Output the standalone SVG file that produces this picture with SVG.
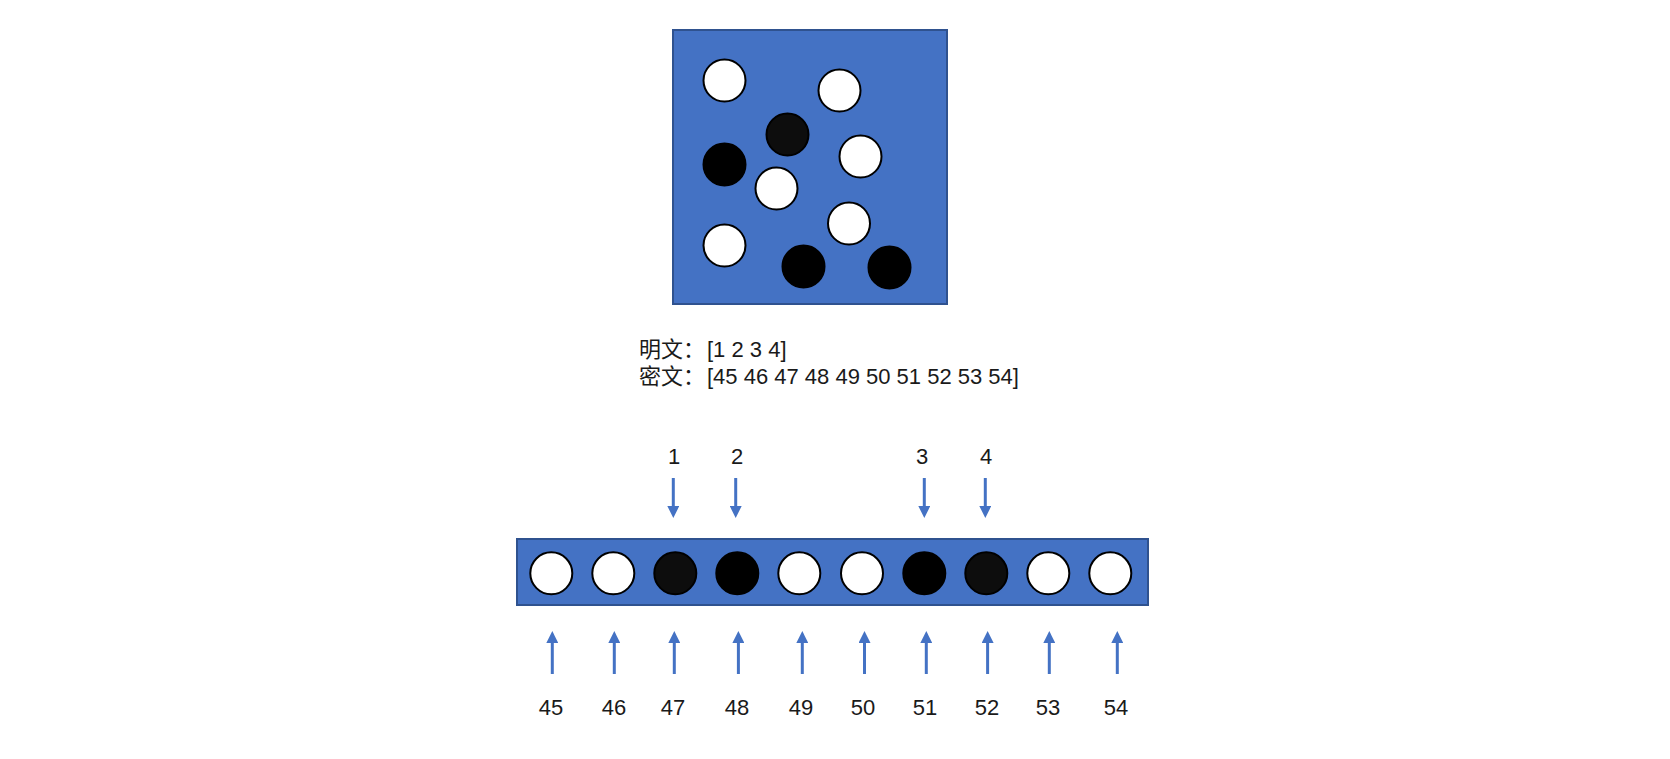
<svg xmlns="http://www.w3.org/2000/svg" width="1670" height="759" viewBox="0 0 1670 759">
<style>
.panel{fill:#4472C4;stroke:#2F528F;stroke-width:2}
.w{fill:#FFFFFF;stroke:#000000;stroke-width:2}
.b{fill:#000000;stroke:#000000;stroke-width:2}
.d{fill:#0D0D0D;stroke:#000000;stroke-width:2}
.t{font-family:"Liberation Sans","Noto Sans CJK SC",sans-serif;font-size:22px;fill:#1a1a1a}
.c{text-anchor:middle}
.arr{stroke:#4472C4;stroke-width:3;fill:none;marker-end:url(#ah)}
</style>
<defs>
<marker id="ah" viewBox="0 0 12 12" markerWidth="12" markerHeight="12" refX="0" refY="6" orient="auto" markerUnits="userSpaceOnUse">
<path d="M0,0 L12,6 L0,12 z" fill="#4472C4"/>
</marker>
</defs>
<rect width="1670" height="759" fill="#FFFFFF"/>
<g id="board">
<rect class="panel" x="673" y="30" width="274" height="274"/>
<circle class="w" cx="724.5" cy="80.5" r="21"/>
<circle class="w" cx="839.5" cy="90.5" r="21"/>
<circle class="d" cx="787.5" cy="134.5" r="21"/>
<circle class="b" cx="724.5" cy="164.5" r="21"/>
<circle class="w" cx="860.5" cy="156.5" r="21"/>
<circle class="w" cx="776.5" cy="188.5" r="21"/>
<circle class="w" cx="849" cy="223.5" r="21"/>
<circle class="w" cx="724.5" cy="245.5" r="21"/>
<circle class="b" cx="803.5" cy="266.5" r="21"/>
<circle class="b" cx="889.5" cy="267.5" r="21"/>
</g>
<g id="texts">
<text class="t" x="639" y="357">明文：</text>
<text class="t" x="707" y="357">[1 2 3 4]</text>
<text class="t" x="639" y="384">密文：</text>
<text class="t" x="707" y="384">[45 46 47 48 49 50 51 52 53 54]</text>
</g>
<g id="bar">
<rect class="panel" x="517" y="539" width="631" height="66"/>
<circle class="w" cx="551.3" cy="573.3" r="21"/>
<circle class="w" cx="613.3" cy="573.3" r="21"/>
<circle class="d" cx="675.3" cy="573.3" r="21"/>
<circle class="b" cx="737.3" cy="573.3" r="21"/>
<circle class="w" cx="799.3" cy="573.3" r="21"/>
<circle class="w" cx="862" cy="573.3" r="21"/>
<circle class="b" cx="924.3" cy="573.3" r="21"/>
<circle class="d" cx="986.3" cy="573.3" r="21"/>
<circle class="w" cx="1048.3" cy="573.3" r="21"/>
<circle class="w" cx="1110.3" cy="573.3" r="21"/>
</g>
<g id="top-labels">
<text class="t c" x="674" y="464">1</text>
<text class="t c" x="737" y="464">2</text>
<text class="t c" x="922" y="464">3</text>
<text class="t c" x="986" y="464">4</text>
</g>
<g id="bottom-labels">
<text class="t c" x="551" y="715">45</text>
<text class="t c" x="614" y="715">46</text>
<text class="t c" x="673" y="715">47</text>
<text class="t c" x="737" y="715">48</text>
<text class="t c" x="801" y="715">49</text>
<text class="t c" x="863" y="715">50</text>
<text class="t c" x="925" y="715">51</text>
<text class="t c" x="987" y="715">52</text>
<text class="t c" x="1048" y="715">53</text>
<text class="t c" x="1116" y="715">54</text>
</g>
<g id="connectors">
<line class="arr" x1="673.3" y1="478" x2="673.3" y2="506"/>
<line class="arr" x1="735.7" y1="478" x2="735.7" y2="506"/>
<line class="arr" x1="924.3" y1="478" x2="924.3" y2="506"/>
<line class="arr" x1="985.3" y1="478" x2="985.3" y2="506"/>
<line class="arr" x1="552.3" y1="674" x2="552.3" y2="643"/>
<line class="arr" x1="614.3" y1="674" x2="614.3" y2="643"/>
<line class="arr" x1="674.3" y1="674" x2="674.3" y2="643"/>
<line class="arr" x1="738.4" y1="674" x2="738.4" y2="643"/>
<line class="arr" x1="802.3" y1="674" x2="802.3" y2="643"/>
<line class="arr" x1="864.5" y1="674" x2="864.5" y2="643"/>
<line class="arr" x1="926.3" y1="674" x2="926.3" y2="643"/>
<line class="arr" x1="987.6" y1="674" x2="987.6" y2="643"/>
<line class="arr" x1="1049.3" y1="674" x2="1049.3" y2="643"/>
<line class="arr" x1="1117.3" y1="674" x2="1117.3" y2="643"/>
</g>
</svg>
